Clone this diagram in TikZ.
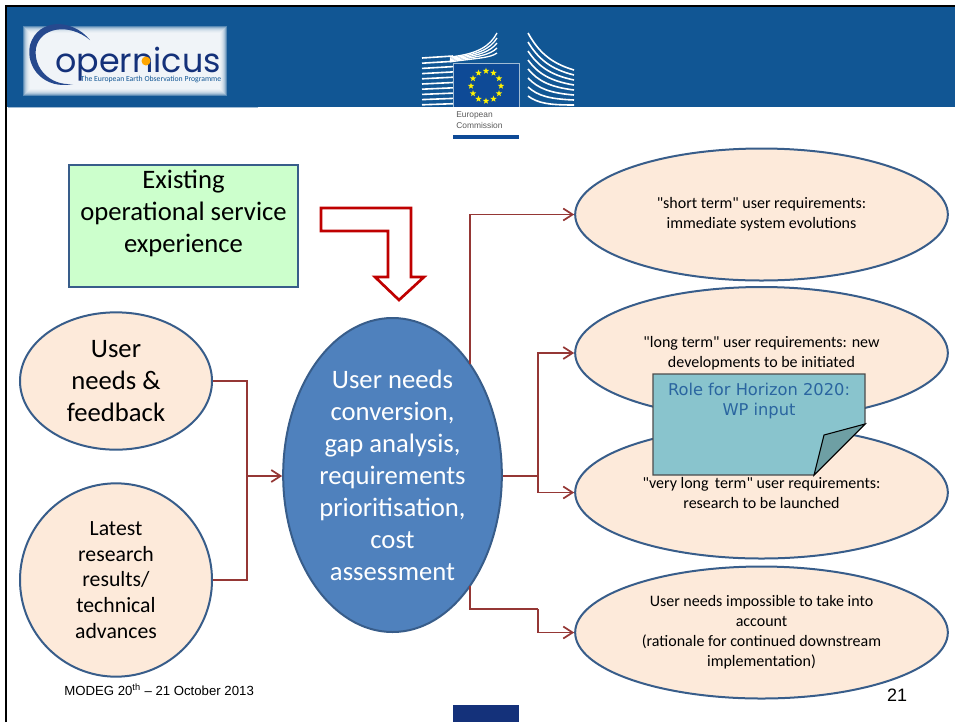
\documentclass[tikz,border=0pt]{standalone}
\usepackage{fontspec}
\newfontfamily\calibrifont{Carlito}[NFSSFamily=carlitoplain]
\renewcommand{\familydefault}{carlitoplain}
\newfontfamily\arialfont{Liberation Sans}
\newfontfamily\verdanafont{DejaVu Sans}
\newfontfamily\logofont{Poppins}
\usetikzlibrary{shapes.geometric,arrows.meta}
\definecolor{headblue}{HTML}{115694}
\definecolor{flagblue}{HTML}{0E4A96}
\definecolor{edgeblue}{HTML}{385D8A}
\definecolor{hubblue}{HTML}{4F81BD}
\definecolor{peach}{HTML}{FDEADA}
\definecolor{linkred}{HTML}{953735}
\definecolor{notefill}{HTML}{89C4CD}
\definecolor{notefold}{HTML}{6E9FA4}
\definecolor{notetext}{HTML}{2A65A0}
\definecolor{navy}{HTML}{14317A}
\tikzset{
  blob/.style = {ellipse, draw = edgeblue, line width = 1.5pt, fill = peach, inner sep = 0pt, align = center},
  req/.style = {blob, minimum width = 279.5pt, minimum height = 99pt, font = \fontsize{12}{15}\selectfont},
  bigtext/.style = {font = \fontsize{20}{24}\selectfont},
  link/.style = {draw = linkred, line width = 1.3pt},
  linkto/.style = {link, -{Straight Barb[length = 7pt, width = 9pt]}},
}
\begin{document}
\begin{tikzpicture}[x = 0.75pt, y = -0.75pt]
\useasboundingbox (0,0) rectangle (955,722);

% header
\fill[headblue] (7,7) rectangle (955,107);
\draw[headblue!40, line width = 1pt] (8,107.5) -- (258,107.5);
\draw[line width = 2.2pt] (6,722) -- (6,6) -- (955,6);
\fill[navy] (453,705) rectangle (519,722);

% copernicus logo
\begin{scope}
\foreach \g in {0,1,...,7}
  \fill[white, opacity = 0.3] (23 + \g, 26 + \g) rectangle (227 - \g, 96 - \g);
\fill[navy!70!hubblue] (90,40) .. controls (72,18) and (38,18) .. (30,45) .. controls (25,68) and (45,90) .. (73,84) .. controls (50,86) and (33,68) .. (36,48) .. controls (40,28) and (68,22) .. (90,40);
\node[font = \logofont\fontsize{25}{25}\selectfont, text = navy, inner sep = 0pt] (logoname) at (138,64) {opernicus};
\fill[orange!70!yellow] (146,61) circle (4.5);
\node[font = \fontsize{5.8}{6}\selectfont, text = headblue, inner sep = 0pt] (logosub) at (151,79) {The European Earth Observation Programme};
\end{scope}

% commission logo
\begin{scope}
\foreach \k in {0,1,...,9}
  \draw[white, line width = 1.2pt] (422,58 + 5.2*\k) -- (453,56 + 5.3*\k);
\foreach \k in {0,1,2,3,4}
  \draw[white, line width = 1pt] (450,57 + 1.2*\k) .. controls (478,54 + \k) and (490,46 + 3*\k) .. (497,33 + 5*\k);
\foreach \k in {0,1,...,7}
  \draw[white, line width = 1.2pt] (528,33 + 9*\k) .. controls (538,51 + 7.5*\k) and (550,63 + 6*\k) .. (574,70 + 5*\k);
\fill[white!60!headblue] (452.5,62.5) rectangle (519.5,107);
\fill[flagblue] (453.5,63.5) rectangle (518.5,107);
\foreach \a in {0,30,...,330}
  \node[star, star points = 5, star point ratio = 2.4, fill = yellow, inner sep = 0pt, minimum size = 5pt] at ([shift = {(486,86)}] \a:15) {};
\node[font = \arialfont\fontsize{6.3}{8.5}\selectfont, text = black!65, align = left, anchor = north west, inner sep = 0pt] (ectext) at (456,111.5) {European\\Commission};
\fill[flagblue] (453,135) rectangle (519,138.5);
\end{scope}

% input box
\node[bigtext, draw = edgeblue, line width = 1.5pt, fill = green!20, minimum width = 172pt, minimum height = 91.5pt, inner sep = 0pt, align = center] (service) at (183.5,226) {Existing\\operational service\\experience\\[-1.5pt]\mbox{}};

% hollow arrow
\draw[draw = red!75!black, line width = 2pt, fill = white] (321,208) -- (411,208) -- (411,277) -- (424,277) -- (399,300) -- (375,277) -- (388,277) -- (388,231) -- (321,231) -- cycle;

% left side
\node[blob, bigtext, minimum width = 144pt, minimum height = 103pt] (user) at (116,381) {User\\needs \&\\feedback};
\node[blob, minimum width = 144pt, minimum height = 145pt, font = \fontsize{16.3}{19.3}\selectfont] (latest) at (116,580) {Latest\\research\\results/\\technical\\advances};
\node[blob, bigtext, fill = hubblue, text = white, minimum width = 164pt, minimum height = 235.5pt] (hub) at (392.5,475) {User needs\\conversion,\\gap analysis,\\requirements\\prioritisation,\\cost\\assessment};

% right side
\node[req] (shortterm) at (761.5,214.5) {"short term" user requirements:\\immediate system evolutions};
\node[req] (longterm) at (761.5,353) {"long term" user requirements: new\\developments to be initiated};
\node[req] (verylong) at (761.5,492.5) {"very long\, term" user requirements:\\research to be launched};
\node[req] (impossible) at (761.5,632.5) {User needs impossible to take into\\account\\(rationale for continued downstream\\implementation)};

% connectors
\coordinate (joinleft) at (247,476);
\coordinate (joinright) at (538,476);
\coordinate (hubtop) at (470,364);
\coordinate (hubbottom) at (470,586);
\coordinate (bendbottom) at (538,609);
\draw[link] (user.east) -| (joinleft);
\draw[link] (latest.east) -| (joinleft);
\draw[linkto] (joinleft) -- (joinleft -| hub.west);
\draw[link] (joinleft -| hub.east) -- (joinright);
\draw[linkto] (joinright) |- (longterm.west);
\draw[linkto] (joinright) |- (verylong.west);
\draw[linkto] (hubtop) |- (shortterm.west);
\draw[link] (hubbottom) |- (bendbottom);
\draw[linkto] (bendbottom) |- (impossible.west);

% note
\draw[draw = black!70, line width = 1pt, fill = notefill] (653,374) -- (865,374) -- (865,424) -- (814,475) -- (653,475) -- cycle;
\draw[draw = black, line width = 0.8pt, fill = notefold] (865,424) -- (824,435) -- (814,475) -- cycle;
\node[font = \verdanafont\fontsize{12.2}{14.5}\selectfont, text = notetext, align = center, inner sep = 0pt] (notetext) at (759,401) {Role for Horizon 2020:\\WP input};

% footer
\node[font = \arialfont\fontsize{9.9}{12}\selectfont, anchor = west, inner sep = 0pt] (footer) at (64,690) {MODEG 20\textsuperscript{th} – 21 October 2013};
\node[font = \arialfont\fontsize{13.5}{15}\selectfont, inner sep = 0pt] (pagenum) at (897,695) {21};
\end{tikzpicture}
\end{document}
